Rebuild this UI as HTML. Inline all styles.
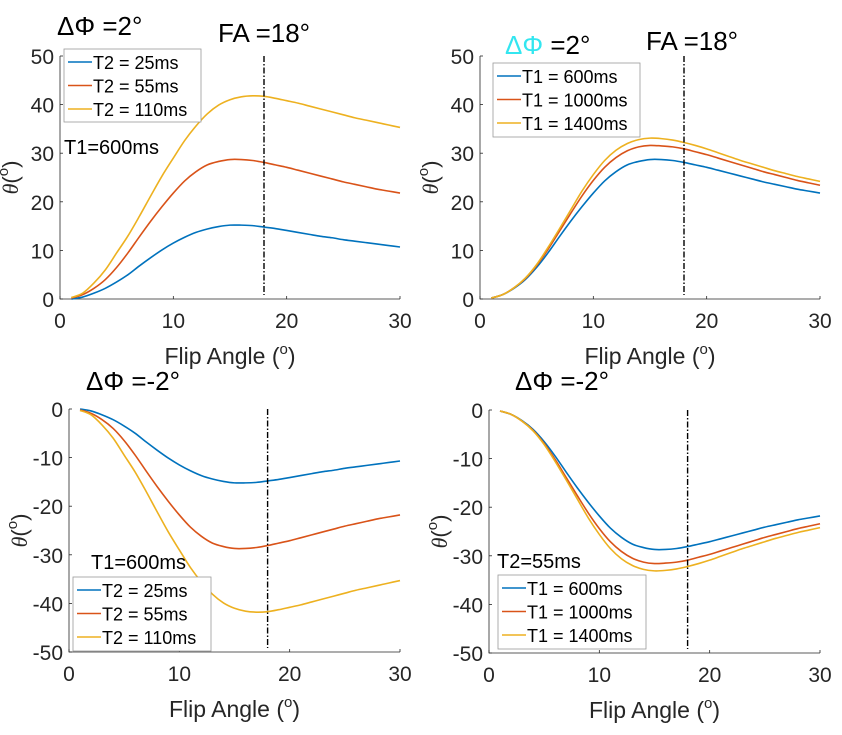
<!DOCTYPE html>
<html><head><meta charset="utf-8"><style>
html,body{margin:0;padding:0;background:#fff;}
svg{display:block;font-family:"Liberation Sans",sans-serif;}
</style></head><body>
<svg id="c" width="842" height="735" viewBox="0 0 842 735"></svg>
<script>
const xs = [1,2,3,4,5,6,7,8,9,10,11,12,13,14,15,16,17,18,19,20,21,22,23,24,25,26,27,28,29,30];
const tlT2_25  = [0,0.4,1.2,2.2,3.5,5,6.8,8.5,10.1,11.5,12.7,13.7,14.4,14.9,15.2,15.2,15.1,14.8,14.5,14.1,13.7,13.3,12.9,12.6,12.2,11.9,11.6,11.3,11,10.7];
const tlT2_55  = [0.2,0.9,2.2,4,6.5,9.5,12.8,16,19,21.8,24.3,26.2,27.6,28.3,28.7,28.7,28.5,28.1,27.6,27.1,26.5,25.9,25.3,24.7,24.1,23.6,23.1,22.6,22.2,21.8];
const tlT2_110 = [0.3,1.2,3.3,6,9.5,13,17,21.2,25.3,29,32.6,35.6,38.1,39.9,41,41.6,41.8,41.7,41.3,40.8,40.3,39.7,39.1,38.5,37.9,37.3,36.8,36.3,35.8,35.3];
const trT1_600  = [0.2,0.9,2.2,4,6.5,9.5,12.8,16,19,21.8,24.3,26.2,27.6,28.3,28.7,28.7,28.5,28.1,27.6,27.1,26.5,25.9,25.3,24.7,24.1,23.6,23.1,22.6,22.2,21.8];
const trT1_1000 = [0.2,0.9,2.3,4.2,6.9,10.2,13.9,17.6,21.2,24.4,27.1,29.1,30.5,31.3,31.6,31.5,31.3,30.9,30.3,29.7,29,28.3,27.6,26.9,26.2,25.6,25,24.4,23.9,23.4];
const trT1_1400 = [0.2,0.9,2.3,4.3,7.1,10.6,14.4,18.3,22.2,25.6,28.5,30.6,32,32.8,33.1,33,32.7,32.2,31.6,30.9,30.1,29.3,28.5,27.8,27.1,26.4,25.8,25.2,24.7,24.2];
const blT2_25  = [0,-0.4,-1.2,-2.2,-3.5,-5,-6.8,-8.5,-10.1,-11.5,-12.7,-13.7,-14.4,-14.9,-15.2,-15.2,-15.1,-14.8,-14.5,-14.1,-13.7,-13.3,-12.9,-12.6,-12.2,-11.9,-11.6,-11.3,-11,-10.7];
const blT2_55  = [-0.2,-0.9,-2.2,-4,-6.5,-9.5,-12.8,-16,-19,-21.8,-24.3,-26.2,-27.6,-28.3,-28.7,-28.7,-28.5,-28.1,-27.6,-27.1,-26.5,-25.9,-25.3,-24.7,-24.1,-23.6,-23.1,-22.6,-22.2,-21.8];
const blT2_110 = [-0.3,-1.2,-3.3,-6,-9.5,-13,-17,-21.2,-25.3,-29,-32.6,-35.6,-38.1,-39.9,-41,-41.6,-41.8,-41.7,-41.3,-40.8,-40.3,-39.7,-39.1,-38.5,-37.9,-37.3,-36.8,-36.3,-35.8,-35.3];
const brT1_600  = [-0.2,-0.9,-2.2,-4,-6.5,-9.5,-12.8,-16,-19,-21.8,-24.3,-26.2,-27.6,-28.3,-28.7,-28.7,-28.5,-28.1,-27.6,-27.1,-26.5,-25.9,-25.3,-24.7,-24.1,-23.6,-23.1,-22.6,-22.2,-21.8];
const brT1_1000 = [-0.2,-0.9,-2.3,-4.2,-6.9,-10.2,-13.9,-17.6,-21.2,-24.4,-27.1,-29.1,-30.5,-31.3,-31.6,-31.5,-31.3,-30.9,-30.3,-29.7,-29,-28.3,-27.6,-26.9,-26.2,-25.6,-25,-24.4,-23.9,-23.4];
const brT1_1400 = [-0.2,-0.9,-2.3,-4.3,-7.1,-10.6,-14.4,-18.3,-22.2,-25.6,-28.5,-30.6,-32,-32.8,-33.1,-33,-32.7,-32.2,-31.6,-30.9,-30.1,-29.3,-28.5,-27.8,-27.1,-26.4,-25.8,-25.2,-24.7,-24.2];
const xTicks = [0,10,20,30];
const yTicksPos = [0,10,20,30,40,50];
const yTicksNeg = [0,-10,-20,-30,-40,-50];
const legT2 = ["T2 = 25ms","T2 = 55ms","T2 = 110ms"];
const legT1 = ["T1 = 600ms","T1 = 1000ms","T1 = 1400ms"];
const faLine = 18;
const colors = ["#0072BD","#D95319","#EDB120"];

const svg = document.getElementById('c');
const NS = "http://www.w3.org/2000/svg";
function mk(tag, attrs, parent){const e=document.createElementNS(NS,tag);for(const k in attrs)e.setAttribute(k,attrs[k]);(parent||svg).appendChild(e);return e;}

function panel(p){
  const g = mk('g',{});
  
  
  const sx = v => p.x0 + (v-0)/30*(p.x1-p.x0);
  const sy = v => p.yb + (v-p.ymin)/(p.ymax-p.ymin)*(p.yt-p.yb);
  const ax = mk('path',{d:`M${p.x0},${p.yt}V${p.yb}H${p.x1}`,fill:'none',stroke:'#262626','stroke-width':0.8},g);
  
  
  xTicks.forEach(t=>{
    mk('line',{x1:sx(t),x2:sx(t),y1:p.yb,y2:p.yb-3,stroke:'#262626','stroke-width':0.8},g);
    const tx = mk('text',{x:sx(t),y:p.yb+29,'text-anchor':'middle','font-size':21,fill:'#262626'},g);
    tx.textContent=t;
    
    
  });
  p.yTicks.forEach(t=>{
    mk('line',{x1:p.x0,x2:p.x0+3,y1:sy(t),y2:sy(t),stroke:'#262626','stroke-width':0.8},g);
    const tx = mk('text',{x:p.x0-6,y:sy(t)+8,'text-anchor':'end','font-size':21,fill:'#262626'},g);
    tx.textContent=t;
    
    
  });
  p.series.forEach((s,i)=>{
    const pts = xs.map((x,j)=>[sx(x),sy(s[j])]);
    let d=`M${pts[0][0]},${pts[0][1]}`;
    for(let j=0;j<pts.length-1;j++){
      const p0=pts[j-1]||pts[j],p1=pts[j],p2=pts[j+1],p3=pts[j+2]||p2;
      const c1=[p1[0]+(p2[0]-p0[0])/6,p1[1]+(p2[1]-p0[1])/6];
      const c2=[p2[0]-(p3[0]-p1[0])/6,p2[1]-(p3[1]-p1[1])/6];
      d+=` C${c1[0]},${c1[1]} ${c2[0]},${c2[1]} ${p2[0]},${p2[1]}`;
    }
    const l = mk('path',{d,fill:'none',stroke:colors[i],'stroke-width':1.6},g);
    
    
  });
  const fl = mk('line',{x1:sx(faLine),x2:sx(faLine),y1:p.yt,y2:p.yb-4,stroke:'#000','stroke-width':1.4,'stroke-dasharray':'6,2,1.5,2'},g);
  
  
  const L = p.leg;
  const lb = mk('rect',{x:L.x,y:L.y,width:L.w,height:L.h,fill:'#fff',stroke:'#999','stroke-width':0.8},g);
  
  
  p.labels.forEach((t,i)=>{
    const cy = L.y+13+i*23.5;
    mk('line',{x1:L.x+4,x2:L.x+28,y1:cy,y2:cy,stroke:colors[i],'stroke-width':1.6},g);
    const tx = mk('text',{x:L.x+29,y:cy+7,'font-size':18,fill:'#000'},g);
    tx.textContent=t;
    
    
  });
  const xl = mk('text',{x:(p.x0+p.x1)/2,y:p.yb+65,'text-anchor':'middle','font-size':23,fill:'#262626'},g);
  xl.innerHTML='Flip Angle (<tspan dy="-10" font-size="15">o</tspan><tspan dy="10">)</tspan>';
  
  
  const cyl=(p.yt+p.yb)/2;
  const yl = mk('text',{x:0,y:0,'text-anchor':'middle','font-size':22,fill:'#262626',transform:`translate(${p.x0-42},${cyl}) rotate(-90)`},g);
  yl.innerHTML='<tspan font-style="italic" font-family="Liberation Serif">θ</tspan>(<tspan dy="-10" font-size="15">o</tspan><tspan dy="10">)</tspan>';
  
  
}

panel({name:'panel-top-left',x0:60,x1:400,yt:56,yb:299,ymin:0,ymax:50,yTicks:yTicksPos,series:[tlT2_25,tlT2_55,tlT2_110],labels:legT2,leg:{x:64,y:49,w:137,h:73}});
panel({name:'panel-top-right',x0:480,x1:820,yt:56,yb:299,ymin:0,ymax:50,yTicks:yTicksPos,series:[trT1_600,trT1_1000,trT1_1400],labels:legT1,leg:{x:493,y:63,w:147,h:74}});
panel({name:'panel-bottom-left',x0:69,x1:400,yt:409,yb:652,ymin:-50,ymax:0,yTicks:yTicksNeg,series:[blT2_25,blT2_55,blT2_110],labels:legT2,leg:{x:73,y:577,w:138,h:74}});
panel({name:'panel-bottom-right',x0:489,x1:820,yt:410,yb:653,ymin:-50,ymax:0,yTicks:yTicksNeg,series:[brT1_600,brT1_1000,brT1_1400],labels:legT1,leg:{x:498,y:575,w:148,h:74}});

function txt(x,y,size,html,name,fill){const t=mk('text',{x,y,'font-size':size,fill:fill||'#000'});t.innerHTML=html;return t;}
txt(57,35,26,'ΔΦ =2°','title-delta-phi-tl');
txt(218,42,26,'FA =18°','title-fa-tl');
txt(505,54,26,'<tspan fill="#33e6f0">ΔΦ</tspan> =2°','title-delta-phi-tr');
txt(646,50,26,'FA =18°','title-fa-tr');
txt(86,390,26,'ΔΦ =-2°','title-delta-phi-bl');
txt(515,390,26,'ΔΦ =-2°','title-delta-phi-br');
txt(64,154,20,'T1=600ms','annotation-t1-tl');
txt(91,569,20,'T1=600ms','annotation-t1-bl');
txt(497,568,20,'T2=55ms','annotation-t2-br');
</script>
</body></html>
